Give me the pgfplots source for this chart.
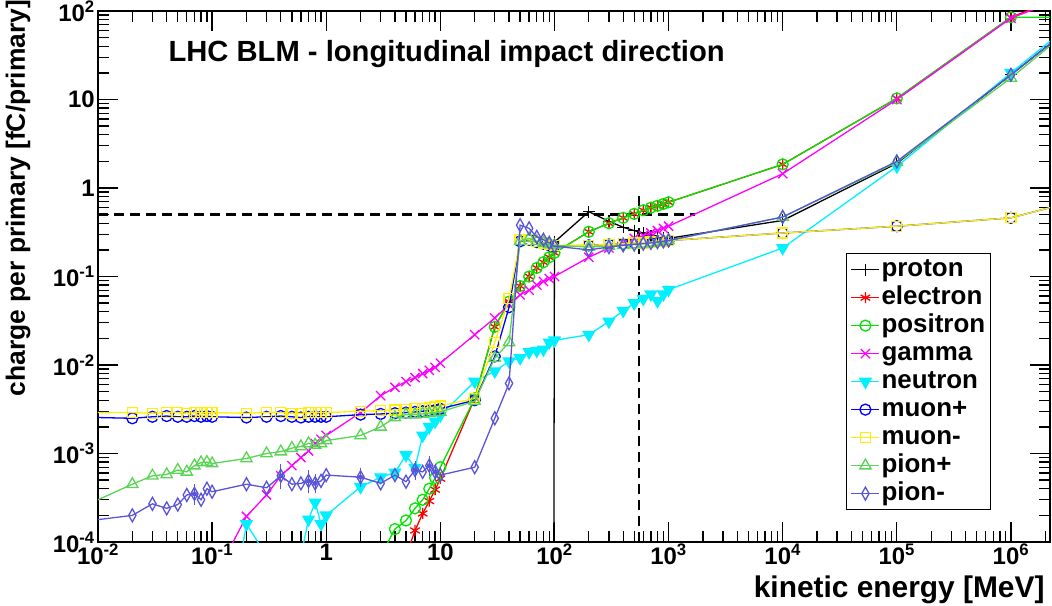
\documentclass[border=0pt]{standalone}
\usepackage{pgfplots}
\pgfplotsset{compat=1.18}
\usepackage{fontspec}
\setmainfont{Liberation Sans}
\definecolor{pionp}{RGB}{89,212,84}
\definecolor{pionm}{RGB}{89,84,216}
\definecolor{posgreen}{RGB}{0,230,0}
\definecolor{muyel}{RGB}{255,240,0}
\definecolor{ncyan}{RGB}{0,240,255}
\definecolor{gmag}{RGB}{255,0,255}
\definecolor{ered}{RGB}{255,0,0}
\definecolor{mblue}{RGB}{0,0,255}
\newcommand\fs[1]{\fontsize{#1}{#1}\selectfont\bfseries}
\begin{document}
\begin{tikzpicture}
\begin{axis}[
 at={(0,0)}, anchor=south west,
 scale only axis, width=952bp, height=531bp,
 xmode=log, ymode=log,
 xmin=1e-2, xmax=2.2e6, ymin=1e-4, ymax=1e2,
 clip marker paths=true,
 axis line style={line width=1.6bp},
 tick style={black, line width=1.3bp},
 major tick length=20bp, minor tick length=11bp,
 tick align=inside, xtick pos=both, ytick pos=both,
 xticklabel pos=bottom, yticklabel pos=left,
 xtick={1e-2,1e-1,1,10,100,1000,1e4,1e5,1e6},
 xticklabels={10\textsuperscript{-2},10\textsuperscript{-1},1,10,10\textsuperscript{2},10\textsuperscript{3},10\textsuperscript{4},10\textsuperscript{5},10\textsuperscript{6}},
 minor xtick={0.02,0.03,0.04,0.05,0.06,0.07,0.08,0.09,0.2,0.3,0.4,0.5,0.6,0.7,0.8,0.9,2,3,4,5,6,7,8,9,20,30,40,50,60,70,80,90,200,300,400,500,600,700,800,900,2000,3000,4000,5000,6000,7000,8000,9000,2e4,3e4,4e4,5e4,6e4,7e4,8e4,9e4,2e5,3e5,4e5,5e5,6e5,7e5,8e5,9e5,2e6},
 ytick={1e-4,1e-3,1e-2,1e-1,1,10,100},
 yticklabels={10\textsuperscript{-4},10\textsuperscript{-3},10\textsuperscript{-2},10\textsuperscript{-1},1,10,10\textsuperscript{2}},
 minor ytick={2e-4,3e-4,4e-4,5e-4,6e-4,7e-4,8e-4,9e-4,2e-3,3e-3,4e-3,5e-3,6e-3,7e-3,8e-3,9e-3,0.02,0.03,0.04,0.05,0.06,0.07,0.08,0.09,0.2,0.3,0.4,0.5,0.6,0.7,0.8,0.9,2,3,4,5,6,7,8,9,20,30,40,50,60,70,80,90},
 ticklabel style={font=\fs{24}},
 xticklabel style={inner sep=1bp, yshift=-1bp},
 yticklabel style={xshift=-2bp, inner sep=1bp},
 every axis plot/.append style={line width=1.3bp},
 legend style={at={(rel axis cs:0.786,0.544)}, anchor=north west, draw=black, line width=1bp, fill=white, font=\fs{26}, row sep=0bp, inner xsep=4bp, inner ysep=2bp, nodes={inner sep=1.5bp, text height=19bp, text depth=6bp},
  /tikz/every even column/.append style={column sep=5bp}},
 legend cell align=left,
 legend image code/.code={\draw[mark repeat=2,mark phase=2,#1] plot coordinates {(0bp,0bp) (14bp,0bp) (28bp,0bp)};},
]
% dashed guide lines
\addplot[forget plot, black, line width=2.5bp, dash pattern=on 10bp off 6bp] coordinates {(1e-2,0.5) (1.7e3,0.5)};
\addplot[forget plot, black, line width=2.5bp, dash pattern=on 10bp off 6bp] coordinates {(550,1e-4) (550,0.85)};

% proton
\addplot[black, mark=+, mark size=6bp] coordinates {
(90,1e-30)(100,0.245)(200,0.54)(300,0.42)(400,0.36)(500,0.33)(600,0.31)(700,0.29)(800,0.28)(900,0.27)(1000,0.27)
(1e4,0.43)(1e5,1.9)(1e6,19)(1e7,200)};
\addlegendentry{proton}
% electron
\addplot[ered, mark=asterisk, mark size=5.5bp] coordinates {
(4,2e-5)(5,7e-5)(6,1.35e-4)(7,2.1e-4)(8,2.9e-4)(9,3.9e-4)(10,5.2e-4)
(20,4.2e-3)(30,0.027)(40,0.052)(50,0.078)(60,0.10)(70,0.125)(80,0.145)(90,0.165)(100,0.185)
(200,0.32)(300,0.40)(400,0.46)(500,0.51)(600,0.56)(700,0.60)(800,0.63)(900,0.66)(1000,0.69)
(1e4,1.85)(1e5,10.3)(1e6,85)(1e7,270)};
\addlegendentry{electron}
% positron
\addplot[posgreen, mark=o, mark size=5.5bp] coordinates {
(3,7e-5)(4,1.4e-4)(5,1.75e-4)(6,2.4e-4)(7,3.0e-4)(8,4.0e-4)(9,5.3e-4)(10,7.0e-4)
(20,4.2e-3)(30,0.027)(40,0.052)(50,0.078)(60,0.10)(70,0.125)(80,0.145)(90,0.165)(100,0.185)
(200,0.32)(300,0.40)(400,0.46)(500,0.51)(600,0.56)(700,0.60)(800,0.63)(900,0.66)(1000,0.69)
(1e4,1.85)(1e5,10.3)(1e6,85)(1e7,85)};
\addlegendentry{positron}
% gamma
\addplot[gmag, mark=x, mark size=6.5bp] coordinates {
(0.1,3.5e-5)(0.2,1.95e-4)(0.3,3.4e-4)(0.4,5.6e-4)(0.5,7.3e-4)(0.6,9e-4)(0.7,1.07e-3)(0.8,1.3e-3)(0.9,1.45e-3)(1,1.6e-3)
(2,2.9e-3)(3,4.5e-3)(4,5.6e-3)(5,6.5e-3)(6,7.2e-3)(7,8e-3)(8,8.7e-3)(9,9.4e-3)(10,0.0105)
(20,0.022)(30,0.034)(40,0.048)(50,0.062)(60,0.07)(70,0.08)(80,0.088)(90,0.095)(100,0.10)
(200,0.165)(300,0.21)(400,0.24)(500,0.27)(600,0.29)(700,0.31)(800,0.33)(900,0.35)(1000,0.37)
(1e4,1.45)(1e5,10)(1e6,83)(1e7,260)};
\addlegendentry{gamma}
% neutron
\addplot[ncyan, mark=triangle*, mark options={rotate=180}, mark size=6.5bp] coordinates {
(0.1,1e-6)(0.2,1.6e-4)(0.3,7e-5)(0.4,5e-5)(0.5,5e-5)(0.6,7e-5)(0.7,1.8e-4)(0.8,2.8e-4)(0.9,1.6e-4)(1,2.0e-4)
(2,4.2e-4)(3,5.4e-4)(4,6.1e-4)(5,9.6e-4)(6,6.9e-4)(7,1.6e-3)(8,2.0e-3)(9,2.3e-3)(10,2.7e-3)
(20,6.5e-3)(30,8.5e-3)(40,0.011)(50,0.012)(60,0.014)(70,0.0145)(80,0.015)(90,0.018)(100,0.019)
(200,0.022)(300,0.031)(400,0.041)(500,0.050)(600,0.056)(700,0.063)(800,0.053)(900,0.063)(1000,0.071)
(1e4,0.21)(1e5,1.75)(1e6,20)(1e7,220)};
\addlegendentry{neutron}
% muon+
\addplot[mblue, mark=o, mark size=5.5bp] coordinates {
(0.005,2.6e-3)(0.02,2.5e-3)(0.03,2.6e-3)(0.04,2.65e-3)(0.05,2.6e-3)(0.06,2.6e-3)(0.07,2.65e-3)(0.08,2.6e-3)(0.09,2.65e-3)(0.1,2.6e-3)
(0.2,2.55e-3)(0.3,2.6e-3)(0.4,2.65e-3)(0.5,2.6e-3)(0.6,2.55e-3)(0.7,2.6e-3)(0.8,2.6e-3)(0.9,2.6e-3)(1,2.6e-3)
(2,2.75e-3)(3,2.8e-3)(4,2.85e-3)(5,2.9e-3)(6,2.95e-3)(7,3.0e-3)(8,3.05e-3)(9,3.1e-3)(10,3.2e-3)
(20,4.0e-3)(30,0.0125)(40,0.045)(50,0.25)(60,0.26)(70,0.245)(80,0.235)(90,0.225)(100,0.22)
(200,0.225)(300,0.23)(400,0.235)(500,0.24)(600,0.24)(700,0.245)(800,0.25)(900,0.25)(1000,0.255)
(1e4,0.31)(1e5,0.37)(1e6,0.46)(1e7,1.0)};
\addlegendentry{muon+}
% muon-
\addplot[muyel, mark=square, mark size=5bp] coordinates {
(0.005,2.9e-3)(0.02,2.9e-3)(0.03,2.85e-3)(0.04,2.9e-3)(0.05,2.9e-3)(0.06,2.85e-3)(0.07,2.9e-3)(0.08,2.9e-3)(0.09,2.9e-3)(0.1,2.9e-3)
(0.2,2.85e-3)(0.3,2.9e-3)(0.4,2.9e-3)(0.5,2.85e-3)(0.6,2.85e-3)(0.7,2.9e-3)(0.8,2.9e-3)(0.9,2.9e-3)(1,2.9e-3)
(2,3.0e-3)(3,3.05e-3)(4,3.1e-3)(5,3.15e-3)(6,3.2e-3)(7,3.25e-3)(8,3.3e-3)(9,3.35e-3)(10,3.45e-3)
(20,4.2e-3)(30,0.018)(40,0.056)(50,0.26)(60,0.26)(70,0.25)(80,0.24)(90,0.23)(100,0.225)
(200,0.225)(300,0.23)(400,0.235)(500,0.24)(600,0.24)(700,0.245)(800,0.25)(900,0.25)(1000,0.255)
(1e4,0.31)(1e5,0.37)(1e6,0.46)(1e7,1.0)};
\addlegendentry{muon-}
% pion+
\addplot[pionp, mark=triangle, mark size=6.5bp] coordinates {
(0.005,2.0e-4)(0.02,4.5e-4)(0.03,5.6e-4)(0.04,5.8e-4)(0.05,6.5e-4)(0.06,6.2e-4)(0.07,7.3e-4)(0.08,7.9e-4)(0.09,8.0e-4)(0.1,7.7e-4)
(0.2,8.8e-4)(0.3,1.0e-3)(0.4,1.05e-3)(0.5,1.15e-3)(0.6,1.2e-3)(0.7,1.3e-3)(0.8,1.25e-3)(0.9,1.3e-3)(1,1.4e-3)
(2,1.6e-3)(3,2.0e-3)(4,2.55e-3)(5,2.75e-3)(6,2.75e-3)(7,2.8e-3)(8,2.85e-3)(9,2.9e-3)(10,2.95e-3)
(20,3.9e-3)(30,0.012)(40,0.018)(50,0.25)(60,0.27)(70,0.25)(80,0.24)(90,0.23)(100,0.225)
(200,0.215)(300,0.22)(400,0.225)(500,0.23)(600,0.235)(700,0.24)(800,0.245)(900,0.25)(1000,0.255)
(1e4,0.47)(1e5,1.95)(1e6,17.5)(1e7,200)};
\addlegendentry{pion+}
% pion-
\addplot[pionm, mark=diamond, mark size=6.5bp, mark options={xscale=0.75}] coordinates {
(0.005,1.6e-4)(0.02,2.0e-4)(0.03,2.7e-4)(0.04,2.4e-4)(0.05,2.65e-4)(0.06,3.4e-4)(0.07,3.5e-4)(0.08,3.0e-4)(0.09,4.0e-4)(0.1,3.7e-4)
(0.2,4.5e-4)(0.3,4.1e-4)(0.4,5.6e-4)(0.5,4.5e-4)(0.6,4.6e-4)(0.7,4.9e-4)(0.8,4.6e-4)(0.9,4.9e-4)(1,5.7e-4)
(2,5.4e-4)(3,4.6e-4)(4,5.7e-4)(5,4.8e-4)(6,6.5e-4)(7,6.2e-4)(8,7.3e-4)(9,6.2e-4)(10,5.7e-4)
(20,7.0e-4)(30,2.5e-3)(40,6.2e-3)(50,0.38)(60,0.35)(70,0.28)(80,0.26)(90,0.24)(100,0.22)
(200,0.20)(300,0.215)(400,0.225)(500,0.23)(600,0.235)(700,0.24)(800,0.245)(900,0.25)(1000,0.255)
(1e4,0.47)(1e5,2.0)(1e6,19)(1e7,200)};
\addlegendentry{pion-}
% pion- error bars
\addplot[forget plot, only marks, mark=none, pionm, line width=1bp,
 error bars/.cd, y dir=both, y explicit, error bar style={line width=1bp, draw=pionm},
 error mark options={draw=pionm, mark size=3.5bp, line width=1bp}] coordinates {
(0.07,3.5e-4) +- (0,0.6e-4)
(0.4,5.6e-4) +- (0,1.3e-4)
(0.7,4.9e-4) +- (0,1.0e-4)
(0.8,4.6e-4) +- (0,0.7e-4)
(2,5.4e-4) +- (0,0.8e-4)
(6,6.5e-4) +- (0,1.0e-4)
(8,7.3e-4) +- (0,1.2e-4)
(9,6.2e-4) +- (0,0.8e-4)};
\end{axis}
\node[anchor=base west, font=\fs{29.3}] at (67bp,480bp) {LHC BLM - longitudinal impact direction};
\node[anchor=center, rotate=90, font=\fs{26.5}] at (-80bp,344bp) {charge per primary [fC/primary]};
\node[anchor=base east, font=\fs{30}] at (950bp,-55bp) {kinetic energy [MeV]};
\pgfresetboundingbox
\useasboundingbox (-98bp,-64bp) rectangle (954bp,542bp);
\end{tikzpicture}
\end{document}
